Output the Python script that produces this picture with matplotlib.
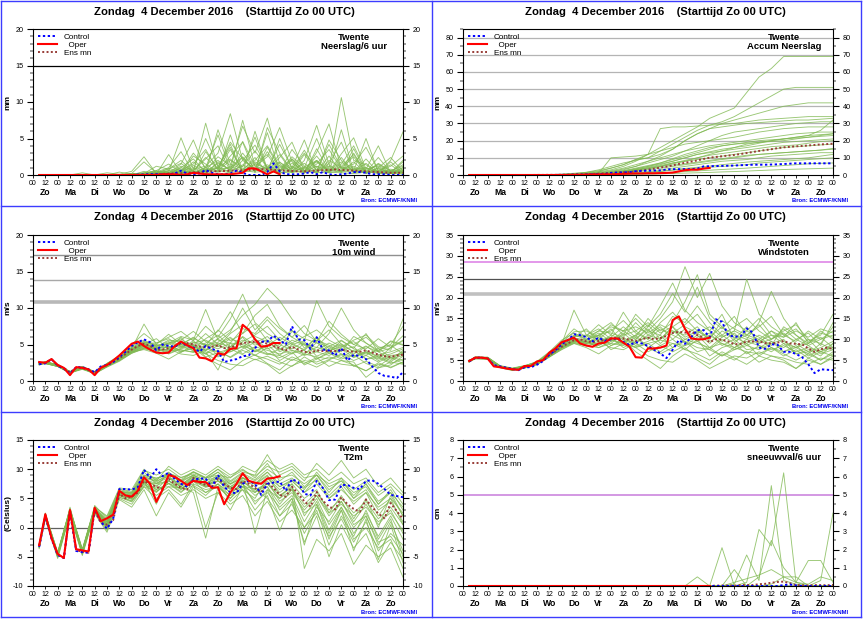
import numpy as np
import matplotlib.pyplot as plt
from matplotlib.lines import Line2D
from matplotlib.ticker import MultipleLocator
import matplotlib.transforms as mtransforms

plt.rcParams['font.family'] = ['Liberation Sans', 'DejaVu Sans']
plt.rcParams['axes.unicode_minus'] = False

# hours after Zo 4 Dec 2016 00 UTC
t_6h = np.arange(6, 361, 6)                   # control and ens mean
t_oper = np.arange(6, 241, 6)                 # oper run (10 days)
t_mem = np.r_[6, np.arange(12, 361, 12)]      # members, read every 12 h

hour_labels = ['00', '12'] * 15 + ['00']
day_names = ['Zo', 'Ma', 'Di', 'Wo', 'Do', 'Vr', 'Za',
             'Zo', 'Ma', 'Di', 'Wo', 'Do', 'Vr', 'Za', 'Zo']
title = 'Zondag  4 December 2016    (Starttijd Zo 00 UTC)'

# ---------------- Neerslag/6 uur (mm) ----------------
rain_oper = [0] * 20 + [0.1, 0.1, 0.1, 0.0, 0.1, 0.3, 0.2, 0.1, 0.1, 0.1,
                        0.1, 0.1, 0.2, 0.3, 0.9, 0.9, 0.5, 0.1, 0.5, 0.1]
rain_control = [0] * 16 + [0.05, 0.05, 0.1, 0.1,
                           0.1, 0.1, 0.2, 0.6, 0.2, 0.1, 0.2, 0.7, 0.3, 0.1,
                           0.1, 0.2, 0.6, 0.3, 0.0, 0.0, 0.0, 0.4, 1.6, 0.5,
                           0.1, 0.1, 0.1, 0.2, 0.4, 0.1, 0.4, 0.1, 0.0, 0.1,
                           0.2, 0.4, 0.4, 0.3, 0.1, 0.1, 0.1, 0.0, 0.0, 0.0]
rain_mean = [0] * 14 + [0.02, 0.03, 0.05, 0.07, 0.1, 0.12, 0.15, 0.2, 0.22, 0.25,
                        0.3, 0.35, 0.4, 0.45, 0.5, 0.5, 0.55, 0.6, 0.6, 0.65,
                        0.7, 0.75, 0.8, 0.75, 0.7, 0.65, 0.6, 0.55, 0.5, 0.5,
                        0.55, 0.6, 0.65, 0.7, 0.75, 0.7, 0.65, 0.6, 0.55, 0.5,
                        0.45, 0.4, 0.35, 0.3, 0.3, 0.3]
rain_members = [
    [0] * 8 + [0.2, 1.8, 0.3, 0.5, 5.1, 0.8, 1.2, 3.0, 8.4, 2.0, 4.1, 1.0, 0.3, 2.2, 0.5, 1.5, 3.5, 0.8, 1.2, 0.5, 0.2, 0.3, 0.5],
    [0] * 6 + [0.3, 0.1, 0.5, 2.5, 0.2, 0.3, 1.5, 4.8, 0.6, 2.5, 1.3, 6.7, 3.0, 7.8, 1.5, 0.4, 2.8, 0.6, 4.2, 1.0, 2.5, 0.2, 1.0, 0.2, 0.3],
    [0] * 4 + [0.3, 0, 0, 0.4, 0.1, 0.2, 1.2, 0.8, 2.0, 0.4, 7.1, 1.0, 4.5, 2.2, 0.6, 5.8, 0.5, 2.5, 1.0, 5.0, 0.8, 10.6, 2.0, 1.4, 0.3, 2.0, 5.9],
    [0] * 9 + [0.3, 0.6, 1.5, 0.4, 3.0, 1.0, 5.5, 0.7, 7.5, 1.2, 2.5, 6.5, 1.8, 0.4, 3.1, 7.0, 0.8, 1.5, 3.8, 0.6, 1.4, 0.2],
    [0] * 8 + [0.2, 0.1, 0.4, 0.2, 0.6, 1.5, 3.5, 0.6, 2.0, 1.1, 5.2, 0.6, 2.4, 4.5, 0.5, 1.2, 0.4, 2.9, 5.1, 0.8, 4.0, 0.3, 1.8],
    [0] * 9 + [0.5, 0.1, 2.8, 0.3, 0.6, 2.2, 4.0, 0.5, 1.2, 3.3, 1.0, 0.2, 1.0, 4.8, 0.3, 1.6, 4.5, 0.4, 2.2, 0.3, 0.6, 0.2],
    [0] * 8 + [0.1, 0.2, 0.3, 0.2, 1.0, 2.2, 0.4, 6.2, 1.5, 0.8, 2.0, 4.0, 1.2, 0.3, 2.0, 6.8, 1.4, 0.3, 3.0, 0.2, 1.0, 2.4, 0.5],
    [0] * 10 + [0.2, 0.4, 0.2, 0.8, 5.0, 1.2, 3.8, 0.4, 1.5, 2.8, 0.4, 3.5, 1.2, 0.2, 2.0, 1.0, 0.6, 5.0, 0.4, 0.2, 1.0],
    [0] * 9 + [0.1, 0.4, 1.0, 3.2, 0.3, 1.0, 0.5, 2.6, 4.5, 0.3, 6.5, 3.0, 0.6, 1.6, 0.4, 4.8, 2.0, 0.8, 0.4, 2.4, 0.4, 0.1],
    [0] * 10 + [0.1, 0.2, 0.5, 1.0, 0.2, 1.8, 0.6, 3.0, 0.8, 1.4, 0.6, 2.0, 0.2, 3.6, 0.6, 0.5, 1.8, 0.3, 0.6, 1.2, 2.6],
    [0] * 9 + [0.2, 0.2, 0.6, 0.3, 2.6, 1.5, 0.4, 5.5, 0.6, 2.4, 0.3, 5.0, 0.8, 3.0, 1.0, 0.3, 6.2, 0.5, 1.6, 0.2, 0.8, 0.4],
    [0] * 8 + [0.1, 0.2, 0.1, 0.3, 0.8, 0.2, 3.2, 0.8, 1.0, 2.5, 0.5, 3.2, 0.6, 1.2, 0.4, 2.0, 0.5, 1.5, 4.0, 0.6, 1.4, 0.3, 0.6],
    [0] * 10 + [0.1, 0.1, 0.2, 0.5, 0.3, 1.0, 4.2, 0.3, 6.0, 0.8, 1.8, 0.3, 1.0, 0.4, 2.6, 0.4, 0.8, 1.0, 0.2, 1.8, 0.3],
    [0] * 10 + [0.2, 0.3, 0.4, 0.3, 0.8, 0.4, 1.2, 0.5, 0.6, 1.2, 0.3, 0.6, 0.3, 0.8, 0.3, 0.6, 0.4, 0.3, 0.5, 0.4, 1.0],
    [0] * 9 + [0.1, 0.1, 0.2, 0.2, 0.4, 0.2, 0.6, 0.3, 0.6, 0.4, 0.5, 0.3, 0.4, 0.5, 0.3, 0.4, 0.3, 0.2, 0.4, 0.3, 0.2, 0.4],
    [0] * 8 + [0.1, 0.3, 0.2, 0.9, 0.4, 1.8, 0.5, 1.0, 2.2, 0.6, 1.5, 0.9, 2.8, 0.4, 1.1, 2.0, 0.6, 1.8, 0.5, 1.0, 0.4, 0.2, 0.8],
    [0] * 9 + [0.2, 0.5, 0.3, 1.2, 0.6, 2.4, 0.8, 3.5, 0.5, 1.8, 0.7, 4.2, 1.0, 0.6, 2.6, 0.5, 1.2, 2.8, 0.4, 1.5, 0.6, 1.2],
    [0] * 10 + [0.3, 0.8, 1.6, 0.4, 1.0, 2.0, 0.6, 4.6, 1.2, 0.5, 1.7, 0.8, 3.4, 0.6, 1.2, 0.5, 3.6, 0.4, 0.9, 0.3, 2.0],
    [0] * 9 + [0.1, 0.2, 0.6, 0.3, 1.3, 0.4, 1.6, 0.7, 2.4, 0.5, 3.8, 0.9, 2.2, 0.6, 1.8, 0.4, 2.4, 0.3, 0.8, 1.2, 0.2, 0.6],
    [0] * 10 + [0.1, 0.3, 0.5, 0.2, 0.6, 0.9, 0.4, 1.4, 0.6, 1.0, 0.5, 1.6, 0.4, 1.2, 0.8, 0.6, 1.0, 0.3, 0.7, 0.5, 1.4],
    [0] * 8 + [0.1, 0.2, 0.6, 0.2, 1.0, 0.3, 0.7, 1.1, 0.4, 2.0, 0.8, 0.5, 1.3, 0.6, 0.9, 1.9, 0.4, 1.1, 0.6, 0.4, 1.6, 0.5, 0.3],
]

# ---------------- Accum Neerslag (mm) ----------------
acc_oper = [0] * 16 + [0.0, 0.1, 0.1, 0.2, 0.3, 0.3, 0.4, 0.4, 0.5, 0.7, 0.8, 0.9,
                       0.9, 1.0, 1.0, 1.1, 1.2, 1.4, 2.1, 2.8, 3.1, 3.1, 3.7, 4.1]
acc_control = [0] * 14 + [0.05, 0.1,
                          0.1, 0.2, 0.2, 0.3, 0.4, 0.5, 0.6, 1.2, 1.4, 1.5, 1.6, 2.2,
                          2.4, 2.5, 2.6, 2.7, 3.2, 3.4, 3.4, 3.4, 3.4, 3.7, 5.0, 5.1,
                          5.2, 5.3, 5.4, 5.5, 5.7, 5.8, 6.0, 6.0, 6.0, 6.1,
                          6.2, 6.4, 6.6, 6.8, 6.8, 6.8, 6.8, 6.8, 6.8, 6.8]
acc_mean = [0, 0, 0, 0, 0, 0, 0, 0, 0, 0,
            0, 0.05, 0.05, 0.1, 0.1, 0.2, 0.2, 0.3, 0.4, 0.5,
            0.6, 0.8, 1.0, 1.2, 1.4, 1.6, 1.8, 2.1, 2.6, 3.1,
            3.7, 4.3, 4.9, 5.6, 6.4, 7.1, 7.8, 8.5, 9.3, 10.1,
            10.5, 10.9, 11.3, 11.7, 12.2, 12.8, 13.4, 14.0, 14.5, 15.0,
            15.6, 16.1, 16.4, 16.7, 16.9, 17.2, 17.5, 17.8, 18.0, 18.2]
acc_members = [
    [0] * 7 + [0.2, 0.5, 1.0, 1.5, 2.5, 4.0, 6.0, 9.0, 12, 16, 20, 24, 28, 33, 36, 39, 48, 57, 62, 69, 69, 69, 69, 69],
    [0] * 7 + [0.1, 0.3, 0.8, 1.6, 3.0, 5.0, 7.0, 8.5, 10, 14, 18, 22, 26, 29, 31, 34, 38, 42, 46, 50, 51, 51, 51, 51],
    [0] * 8 + [0.2, 0.5, 1.2, 2.0, 4.0, 6.0, 9.0, 10, 12, 15, 20, 24, 27, 30, 32, 34, 36, 38, 40, 41, 42, 42, 42],
    [0] * 8 + [0.3, 0.6, 1.0, 1.8, 3.0, 5.0, 8.0, 12, 27, 28, 28, 28.5, 29, 29.5, 30, 31, 32, 32.5, 33, 33.5, 34, 34, 34],
    [0] * 8 + [0.1, 0.4, 0.8, 1.2, 2.0, 3.0, 5.0, 8, 11, 15, 20, 24, 27, 28, 29, 30, 30.5, 31, 31.5, 32, 32, 32.5, 33],
    [0] * 8 + [0.1, 0.2, 0.5, 1.0, 2.0, 3.5, 5.0, 7, 9, 11, 14, 17, 20, 23, 25, 26, 27, 28, 29, 30, 30.5, 31, 31],
    [0] * 9 + [0.2, 0.5, 1.0, 10, 10.5, 11, 12, 14, 16, 18, 19, 20, 21, 22, 23.5, 25, 26, 27, 27.5, 28, 28, 28],
    [0] * 8 + [0.2, 0.4, 0.8, 1.5, 2.5, 4.0, 6.0, 8, 10, 12, 14, 15.5, 17, 18, 19, 20, 21, 22, 23, 24, 24.5, 25, 25],
    [0] * 9 + [0.1, 0.4, 0.8, 1.5, 2.5, 4.0, 5.5, 7, 9, 11, 13, 15, 17, 18, 19, 20, 20.5, 21, 21.5, 22, 22.5, 23],
    [0] * 9 + [0.2, 0.3, 0.6, 1.0, 2.0, 3.0, 4.5, 6, 8, 10, 12, 13, 14, 15, 16, 17, 18, 19, 19.5, 20, 20.5, 21],
    [0] * 9 + [0.1, 0.2, 0.5, 1.0, 1.6, 2.5, 3.5, 5, 7, 8, 9, 10, 11, 12, 13, 14, 15, 16, 16.5, 17, 17.5, 18],
    [0] * 10 + [0.2, 0.4, 0.8, 1.2, 2.0, 3, 4, 5, 6, 7, 8, 9, 10, 11, 12, 12.5, 13, 13.5, 14, 14.5, 15],
    [0] * 10 + [0.1, 0.3, 0.6, 1.0, 1.5, 2, 3, 4, 5, 6, 7, 8, 8.5, 9, 10, 11, 11.5, 12, 12.5, 13, 13],
    [0] * 10 + [0.1, 0.2, 0.4, 0.7, 1.0, 1.5, 2, 2.8, 3.5, 4, 4.5, 5, 5.5, 6, 7, 7.5, 8, 8.5, 9, 9.5, 10],
    [0] * 11 + [0.1, 0.2, 0.4, 0.6, 0.9, 1.2, 1.6, 2.0, 2.4, 2.8, 3.2, 3.6, 4.0, 4.5, 5.0, 5.5, 6.0, 6.5, 6.8, 7.0],
    [0] * 12 + [0.1, 0.2, 0.3, 0.5, 0.7, 0.9, 1.1, 1.3, 1.5, 1.8, 2.0, 2.3, 2.6, 2.9, 3.2, 3.4, 3.6, 3.8, 4.0],
    [0] * 8 + [0.1, 0.3, 0.6, 1.0, 1.6, 2.4, 3.6, 5, 7, 9.5, 12, 14, 16, 17, 18, 18.5, 19, 19.5, 20, 21, 22, 23, 24],
    [0] * 9 + [0.2, 0.4, 0.8, 1.4, 2.0, 3.0, 4, 5, 6.5, 8, 10, 12, 14, 16, 18, 19, 20, 21, 22, 23, 26, 32],
    [0] * 9 + [0.1, 0.3, 0.7, 1.3, 2.0, 3.0, 4.2, 5.5, 7.0, 8.5, 10, 11.5, 12.5, 13.5, 14.5, 15.5, 16.5, 17, 17.5, 18.5, 19.5, 20],
    [0] * 10 + [0.2, 0.5, 1.0, 1.8, 2.8, 3.8, 4.8, 5.8, 6.5, 7.5, 8.5, 9.5, 10.5, 11.5, 12, 12.5, 13, 13.5, 14, 14.5, 15.5],
    [0] * 10 + [0.3, 0.6, 1.2, 2.2, 3.5, 5.0, 6.5, 8.0, 10, 12, 13.5, 15, 16, 17, 18.5, 20, 21, 22, 23, 23.5, 24],
    [0] * 11 + [0.1, 0.3, 0.6, 1.0, 1.5, 2.2, 3.0, 3.8, 4.5, 5.2, 6.0, 6.8, 7.5, 8.0, 8.5, 9.0, 9.5, 10.0, 11.0, 12.0],
]

# ---------------- 10m wind (m/s) ----------------
wind_oper = [2.6, 2.5, 3.0, 2.2, 1.8, 0.8, 1.9, 1.8, 1.6, 0.8,
             1.8, 2.2, 2.8, 3.5, 4.3, 5.1, 5.4, 4.8, 4.3, 3.9,
             3.8, 3.9, 4.8, 5.4, 4.9, 4.5, 3.2, 3.1, 2.7, 3.8,
             3.6, 4.4, 4.5, 7.7, 7.0, 5.7, 4.7, 4.8, 5.2, 5.2]
wind_control = [2.3, 2.4, 3.0, 2.1, 1.7, 1.0, 1.9, 1.9, 1.6, 1.2,
                2.0, 2.2, 2.6, 3.3, 4.0, 4.8, 5.3, 5.7, 5.3, 4.2,
                5.0, 4.8, 4.7, 5.3, 4.8, 4.6, 4.0, 4.8, 4.4, 4.1,
                2.6, 2.8, 3.0, 3.4, 3.5, 4.5, 5.4, 5.4, 6.2, 5.6,
                5.0, 7.5, 5.7, 5.6, 4.4, 6.0, 4.3, 4.2, 3.5, 4.5,
                2.8, 3.6, 3.4, 3.0, 2.0, 1.1, 0.7, 0.6, 0.4, 1.2]
wind_mean = [2.4, 2.5, 3.0, 2.1, 1.8, 1.2, 1.8, 1.8, 1.5, 1.1,
             1.9, 2.2, 2.6, 3.1, 3.7, 4.3, 4.8, 5.1, 4.8, 4.3,
             4.3, 4.5, 4.7, 5.2, 5.2, 5.0, 4.7, 4.6, 4.7, 4.9,
             4.5, 4.6, 4.8, 5.2, 5.3, 5.4, 5.4, 5.1, 4.8, 4.5,
             4.2, 4.7, 4.3, 4.0, 3.9, 4.2, 4.1, 4.1, 4.1, 4.3,
             4.1, 4.0, 4.0, 4.2, 3.9, 3.6, 3.4, 3.3, 3.5, 3.6]
wind_members = [
    [2.3, 2.6, 2.2, 1.3, 1.9, 1.3, 2.4, 3.5, 5.0, 6.5, 5.2, 6.0, 6.8, 5.5, 7.5, 6.0, 8.5, 11.9, 8.0, 6.5, 5.5, 7.0, 4.5, 6.0, 4.0, 5.5, 4.5, 6.5, 4.0, 5.5, 5.0],
    [2.5, 2.4, 2.0, 1.1, 1.7, 1.0, 2.0, 2.8, 3.8, 4.5, 4.0, 3.8, 4.5, 5.5, 4.2, 5.8, 7.0, 9.0, 10.5, 12.7, 11.0, 8.5, 6.5, 5.5, 7.0, 5.0, 4.0, 3.5, 4.5, 3.2, 4.0],
    [2.4, 2.5, 2.1, 1.2, 1.9, 1.2, 2.3, 3.2, 4.4, 7.8, 5.0, 4.5, 6.0, 4.0, 5.0, 3.5, 4.5, 6.0, 4.0, 5.0, 3.5, 5.0, 5.5, 11.0, 7.5, 6.0, 5.0, 6.0, 4.5, 5.0, 7.5],
    [2.3, 2.6, 2.2, 1.1, 1.8, 1.0, 2.1, 2.9, 4.0, 4.6, 4.3, 5.2, 4.0, 4.6, 3.2, 2.3, 1.5, 2.8, 3.6, 2.4, 1.5, 3.0, 2.4, 3.2, 2.0, 2.8, 2.2, 1.4, 2.5, 1.8, 2.6],
    [2.5, 2.5, 2.0, 1.2, 1.7, 1.1, 2.2, 3.1, 4.2, 5.0, 5.8, 4.4, 5.0, 6.0, 4.8, 7.0, 5.5, 6.5, 9.0, 10.5, 7.5, 6.0, 5.0, 4.6, 6.5, 10.0, 7.0, 5.2, 4.0, 4.5, 5.5],
    [2.2, 2.4, 2.0, 1.3, 1.6, 1.2, 2.0, 3.0, 4.0, 4.3, 3.8, 3.0, 4.0, 4.5, 3.8, 4.2, 3.2, 4.2, 3.5, 4.6, 2.8, 3.8, 4.2, 3.0, 4.0, 3.2, 4.2, 3.0, 3.2, 2.4, 3.0],
    [2.4, 2.6, 2.2, 1.2, 2.0, 1.2, 2.4, 3.3, 4.6, 5.4, 4.7, 5.6, 5.4, 4.9, 6.5, 5.0, 6.0, 4.6, 5.8, 4.4, 5.0, 4.2, 3.8, 4.6, 4.2, 4.6, 5.4, 4.2, 3.3, 3.7, 4.4],
    [2.3, 2.4, 2.1, 1.1, 1.8, 1.1, 2.0, 2.9, 3.9, 4.8, 4.4, 4.7, 4.2, 4.0, 4.7, 5.8, 4.2, 5.4, 6.3, 7.5, 5.6, 4.4, 5.4, 4.0, 4.7, 3.7, 3.3, 4.0, 2.8, 3.5, 3.7],
    [2.4, 2.5, 2.1, 1.2, 1.7, 1.1, 2.2, 3.0, 4.1, 5.0, 4.2, 4.0, 4.7, 5.2, 5.6, 4.7, 6.5, 7.7, 6.1, 5.4, 4.2, 5.6, 4.9, 4.2, 5.2, 4.4, 3.7, 4.7, 4.0, 3.0, 3.5],
    [2.3, 2.6, 2.2, 1.2, 1.9, 1.2, 2.1, 3.1, 4.3, 5.2, 5.2, 5.8, 4.7, 4.2, 3.7, 2.8, 2.3, 2.1, 3.0, 2.3, 1.0, 2.1, 2.8, 2.6, 3.3, 2.8, 2.6, 0.5, 1.8, 2.6, 2.3],
    [2.5, 2.5, 2.0, 1.1, 1.8, 1.0, 2.2, 3.0, 4.1, 4.8, 4.3, 4.2, 5.2, 4.7, 4.2, 5.2, 4.7, 6.1, 4.9, 5.6, 4.7, 6.8, 5.8, 5.2, 4.7, 5.6, 4.4, 3.7, 4.2, 4.9, 3.7],
    [2.4, 2.6, 2.3, 1.3, 2.0, 1.3, 2.3, 3.3, 4.5, 5.1, 4.6, 5.2, 5.6, 6.8, 5.4, 4.7, 5.8, 5.2, 4.4, 3.7, 3.5, 2.8, 3.7, 3.3, 3.0, 3.7, 2.8, 3.5, 2.6, 3.3, 2.8],
    [2.3, 2.4, 2.0, 1.1, 1.6, 1.0, 1.9, 2.7, 3.8, 4.4, 4.1, 4.4, 3.7, 3.5, 4.2, 3.3, 4.0, 4.7, 3.5, 3.0, 2.3, 3.3, 2.6, 1.9, 2.8, 2.3, 2.1, 1.4, 2.3, 1.9, 2.6],
    [2.5, 2.6, 2.2, 1.2, 1.9, 1.2, 2.4, 3.4, 4.8, 5.6, 4.8, 5.2, 6.1, 5.6, 9.8, 5.6, 5.2, 7.2, 6.5, 8.4, 6.5, 5.2, 6.1, 7.0, 5.6, 4.7, 5.6, 6.3, 4.7, 4.2, 8.5],
    [2.2, 2.5, 2.1, 1.2, 1.7, 1.1, 2.0, 2.8, 3.9, 4.5, 4.5, 3.7, 4.4, 4.9, 4.0, 1.5, 5.2, 3.7, 4.7, 4.2, 3.7, 4.2, 3.5, 4.0, 3.5, 4.2, 4.7, 3.0, 3.5, 2.8, 4.2],
    [2.4, 2.5, 2.1, 1.2, 1.8, 1.1, 2.2, 3.1, 4.3, 5.0, 4.6, 4.6, 4.9, 4.5, 5.2, 6.3, 4.7, 5.6, 5.2, 6.1, 4.4, 5.2, 4.2, 5.6, 4.9, 4.0, 6.1, 5.2, 4.2, 5.4, 4.9],
    [2.4, 2.5, 2.1, 1.3, 1.8, 1.2, 2.3, 3.2, 4.4, 5.3, 4.9, 5.0, 5.8, 4.3, 5.8, 6.8, 9.5, 6.5, 7.8, 5.5, 4.0, 4.8, 3.6, 5.3, 3.8, 4.4, 3.2, 3.9, 3.0, 4.6, 6.2],
    [2.3, 2.4, 2.0, 1.1, 1.7, 1.0, 2.0, 2.9, 4.0, 4.7, 3.9, 4.8, 3.9, 5.0, 3.3, 3.9, 4.4, 3.6, 2.9, 3.4, 2.6, 2.0, 3.3, 2.3, 2.9, 3.6, 2.0, 2.7, 2.0, 3.2, 2.4],
    [2.5, 2.6, 2.2, 1.2, 1.9, 1.2, 2.3, 3.2, 4.6, 5.4, 5.0, 6.4, 5.0, 5.9, 4.9, 5.3, 6.7, 10.0, 7.0, 8.8, 7.2, 6.0, 7.6, 5.4, 8.2, 6.4, 5.0, 4.4, 5.8, 4.6, 5.6],
    [2.4, 2.5, 2.1, 1.2, 1.8, 1.1, 2.1, 3.0, 4.2, 4.9, 4.5, 4.1, 4.3, 3.9, 4.4, 4.0, 3.3, 4.4, 5.3, 3.8, 3.2, 4.0, 2.2, 3.0, 3.8, 3.0, 3.6, 2.4, 1.8, 2.2, 3.4],
    [2.3, 2.5, 2.1, 1.2, 1.9, 1.1, 2.2, 3.1, 4.3, 5.0, 4.8, 5.4, 4.6, 5.3, 5.0, 4.4, 5.2, 5.0, 4.0, 4.8, 6.0, 5.0, 4.3, 6.0, 4.4, 5.1, 4.0, 4.8, 3.6, 4.0, 4.6],
    [2.4, 2.6, 2.2, 1.2, 1.8, 1.2, 2.2, 3.1, 4.2, 5.1, 4.4, 4.3, 5.0, 4.8, 3.7, 5.0, 4.0, 4.8, 4.2, 3.6, 4.4, 3.7, 5.2, 3.4, 4.1, 4.9, 3.4, 4.0, 3.3, 2.6, 3.9],
]
bft_levels = [10.8, 13.9, 17.2]

# ---------------- Windstoten (m/s) ----------------
gust_oper = [4.8, 5.6, 5.6, 5.4, 3.5, 3.3, 3.0, 2.8, 2.7, 3.6,
             3.6, 4.7, 5.0, 6.8, 7.8, 9.3, 9.8, 10.4, 9.0, 8.5,
             8.2, 9.0, 9.2, 10.2, 10.2, 9.2, 8.2, 5.7, 5.6, 7.8,
             7.8, 8.0, 8.5, 14.6, 15.5, 12.5, 10.2, 10.0, 10.0, 10.4]
gust_control = [4.7, 5.6, 5.6, 5.4, 3.8, 3.5, 3.2, 2.9, 2.6, 3.3,
                3.3, 3.9, 4.8, 6.3, 7.4, 8.8, 9.8, 11.2, 11.0, 10.5,
                9.5, 10.4, 9.6, 10.0, 10.2, 9.4, 8.6, 9.3, 9.0, 8.4,
                7.5, 6.6, 5.5, 7.5, 9.8, 8.9, 10.5, 12.2, 12.2, 10.5,
                14.8, 14.2, 11.0, 10.6, 10.7, 12.6, 11.6, 8.0, 7.7, 8.8,
                8.7, 7.0, 7.0, 6.5, 5.7, 4.0, 1.9, 2.8, 2.7, 2.6]
gust_mean = [4.8, 5.5, 5.6, 5.4, 3.7, 3.4, 3.1, 2.8, 2.7, 3.4,
             3.5, 4.2, 5.0, 6.2, 7.2, 8.2, 9.0, 9.8, 10.0, 9.5,
             9.3, 9.6, 9.8, 10.2, 10.3, 10.2, 9.9, 9.6, 10.0, 10.4,
             10.0, 10.3, 10.8, 11.5, 11.8, 11.6, 11.9, 11.0, 10.3, 9.3,
             10.0, 9.9, 9.5, 8.8, 8.9, 9.5, 9.5, 9.5, 9.1, 9.0,
             9.2, 9.6, 9.0, 8.9, 8.8, 7.8, 7.0, 7.6, 8.0, 7.7]
gust_members = [
    [4.6, 5.8, 5.7, 3.6, 2.9, 3.6, 4.5, 6.8, 9.5, 12.5, 10.5, 12.0, 14.0, 11.0, 16.0, 13.0, 18.0, 23.5, 17.0, 14.0, 12.0, 16.0, 10.0, 13.0, 9.0, 12.0, 10.5, 14.0, 9.0, 12.0, 10.0],
    [5.0, 5.4, 5.2, 3.2, 2.6, 3.1, 4.0, 5.8, 7.5, 9.0, 8.5, 8.0, 9.0, 11.5, 9.0, 12.0, 15.0, 19.0, 27.4, 20.0, 25.8, 18.0, 14.0, 12.0, 15.0, 11.0, 9.0, 8.0, 10.0, 7.0, 9.0],
    [4.7, 5.6, 5.5, 3.5, 3.0, 3.5, 4.3, 6.5, 8.8, 17.0, 11.0, 10.0, 12.5, 9.0, 11.0, 8.0, 10.0, 13.0, 9.0, 11.0, 8.0, 10.5, 12.0, 24.4, 16.0, 13.0, 11.0, 12.5, 9.5, 11.0, 16.0],
    [4.9, 5.3, 5.6, 3.3, 2.7, 3.2, 4.1, 6.0, 8.0, 9.5, 9.0, 11.0, 8.5, 10.0, 7.0, 5.0, 3.0, 6.0, 8.0, 5.5, 4.0, 6.5, 5.0, 7.0, 4.5, 6.0, 5.0, 3.0, 5.5, 4.0, 6.0],
    [4.8, 5.7, 5.3, 3.4, 2.9, 3.3, 4.4, 6.4, 8.5, 10.5, 12.5, 9.5, 10.5, 13.0, 10.5, 15.0, 12.0, 14.0, 19.0, 25.5, 16.0, 13.0, 11.0, 10.0, 14.0, 21.5, 15.0, 11.0, 8.5, 10.0, 12.0],
    [4.5, 5.5, 5.6, 3.6, 2.6, 3.5, 4.2, 6.1, 8.0, 9.0, 8.0, 6.5, 8.5, 9.5, 8.0, 9.0, 7.0, 9.0, 7.5, 10.0, 6.0, 8.0, 9.0, 6.5, 8.5, 7.0, 9.0, 6.5, 7.0, 5.0, 6.5],
    [4.9, 5.6, 5.4, 3.5, 3.0, 3.6, 4.6, 6.6, 9.0, 11.0, 10.0, 12.0, 11.5, 10.5, 14.0, 11.0, 13.0, 10.0, 12.5, 9.5, 11.0, 9.0, 8.0, 10.0, 9.0, 10.0, 11.5, 9.0, 7.0, 8.0, 9.5],
    [4.7, 5.4, 5.5, 3.3, 2.8, 3.3, 4.0, 5.9, 7.8, 9.8, 9.5, 10.0, 9.0, 8.5, 10.0, 12.5, 9.0, 11.5, 13.5, 16.0, 12.0, 9.5, 11.5, 8.5, 10.0, 8.0, 7.0, 8.5, 6.0, 7.5, 8.0],
    [4.8, 5.5, 5.4, 3.4, 2.7, 3.4, 4.3, 6.3, 8.3, 10.0, 9.0, 8.5, 10.0, 11.0, 12.0, 10.0, 14.0, 16.5, 13.0, 11.5, 9.0, 12.0, 10.5, 9.0, 11.0, 9.5, 8.0, 10.0, 8.5, 6.5, 7.5],
    [4.6, 5.7, 5.6, 3.5, 2.9, 3.5, 4.1, 6.2, 8.6, 10.8, 11.0, 12.5, 10.0, 9.0, 8.0, 6.0, 5.0, 4.5, 6.5, 5.0, 3.0, 4.5, 6.0, 5.5, 7.0, 6.0, 5.5, 4.5, 4.0, 5.5, 5.0],
    [5.0, 5.5, 5.3, 3.3, 2.8, 3.2, 4.2, 6.0, 8.1, 9.6, 9.2, 9.0, 11.0, 10.0, 9.0, 11.0, 10.0, 13.0, 10.5, 12.0, 10.0, 14.5, 12.5, 11.0, 10.0, 12.0, 9.5, 8.0, 9.0, 10.5, 8.0],
    [4.8, 5.6, 5.7, 3.7, 3.1, 3.7, 4.5, 6.6, 8.9, 10.2, 9.8, 11.0, 12.0, 14.5, 11.5, 10.0, 12.5, 11.0, 9.5, 8.0, 7.5, 6.0, 8.0, 7.0, 6.5, 8.0, 6.0, 7.5, 5.5, 7.0, 6.0],
    [4.7, 5.3, 5.2, 3.2, 2.5, 3.1, 3.9, 5.7, 7.6, 9.2, 8.8, 9.5, 8.0, 7.5, 9.0, 7.0, 8.5, 10.0, 7.5, 6.5, 5.0, 7.0, 5.5, 4.0, 6.0, 5.0, 4.5, 3.0, 5.0, 4.0, 5.5],
    [4.9, 5.8, 5.6, 3.5, 3.0, 3.6, 4.7, 7.0, 9.8, 11.5, 10.0, 11.0, 13.0, 12.0, 15.0, 12.0, 11.0, 15.5, 14.0, 18.0, 14.0, 11.0, 13.0, 15.0, 12.0, 10.0, 12.0, 13.5, 10.0, 9.0, 13.0],
    [4.6, 5.4, 5.5, 3.4, 2.7, 3.3, 4.0, 5.8, 7.9, 9.4, 9.5, 8.0, 9.5, 10.5, 8.5, 9.5, 11.0, 8.0, 10.0, 9.0, 8.0, 9.0, 7.5, 8.5, 7.5, 9.0, 10.0, 6.5, 7.5, 6.0, 9.0],
    [4.8, 5.5, 5.5, 3.4, 2.8, 3.4, 4.2, 6.2, 8.2, 9.9, 9.6, 9.8, 10.4, 9.5, 11.0, 13.5, 10.0, 12.0, 11.0, 13.0, 9.5, 11.0, 9.0, 12.0, 10.5, 8.5, 13.0, 11.0, 9.0, 11.5, 10.5],
    [4.8, 5.6, 5.5, 3.5, 2.8, 3.5, 4.4, 6.5, 8.7, 10.6, 10.8, 13.5, 11.0, 16.5, 12.0, 14.0, 11.5, 13.0, 15.0, 12.0, 10.5, 13.0, 9.5, 11.0, 13.5, 10.0, 12.5, 10.0, 11.5, 8.5, 14.0],
    [4.7, 5.5, 5.4, 3.3, 2.7, 3.3, 4.1, 6.0, 8.0, 9.6, 9.0, 10.5, 7.5, 9.0, 10.5, 8.0, 6.5, 8.0, 9.5, 7.0, 8.0, 6.0, 7.5, 9.0, 6.0, 8.0, 6.5, 5.0, 6.5, 5.0, 7.0],
    [4.9, 5.6, 5.6, 3.6, 3.0, 3.6, 4.5, 6.7, 9.2, 11.8, 12.0, 10.5, 13.5, 12.0, 10.0, 13.0, 16.0, 21.0, 16.5, 22.5, 15.0, 12.5, 15.5, 11.0, 13.0, 15.5, 11.0, 9.5, 12.0, 10.0, 11.0],
    [4.6, 5.4, 5.3, 3.4, 2.7, 3.2, 4.0, 5.9, 7.9, 9.3, 8.4, 9.2, 10.5, 8.0, 9.5, 10.5, 8.5, 7.0, 8.5, 10.5, 11.5, 8.5, 10.0, 7.5, 8.0, 9.5, 7.0, 8.0, 6.5, 9.0, 7.5],
    [4.8, 5.5, 5.5, 3.4, 2.9, 3.4, 4.3, 6.3, 8.4, 10.2, 9.9, 11.5, 9.5, 12.0, 13.0, 11.5, 13.5, 12.0, 10.0, 11.5, 13.0, 10.5, 12.0, 10.5, 9.5, 11.0, 10.5, 12.0, 10.5, 12.5, 11.5],
    [4.7, 5.6, 5.4, 3.5, 2.8, 3.4, 4.2, 6.1, 8.1, 9.7, 9.4, 8.6, 9.8, 8.8, 8.2, 9.0, 9.8, 9.0, 8.5, 9.5, 7.5, 10.0, 8.0, 9.5, 8.5, 7.5, 8.5, 7.0, 8.0, 7.0, 8.0],
]
gust_levels = [20.8, 24.5, 28.5]

# ---------------- T2m (Celsius) ----------------
t2m_oper = [-3.0, 2.3, -1.8, -4.5, -5.2, 3.0, -3.7, -3.9, -4.1, 3.4,
            1.1, 1.6, 2.2, 6.3, 5.5, 5.3, 6.3, 8.6, 7.5, 4.4,
            6.5, 9.0, 8.7, 8.0, 7.3, 8.0, 7.8, 7.8, 6.8, 6.9,
            4.0, 6.0, 7.5, 9.3, 8.0, 7.7, 7.5, 8.4, 8.5, 8.8]
t2m_control = [-3.3, 2.0, -1.9, -4.7, -5.2, 2.7, -4.0, -4.2, -4.3, 3.2,
               1.0, -0.2, 1.5, 6.6, 6.6, 6.5, 6.9, 9.9, 8.5, 10.0,
               8.8, 9.4, 8.3, 7.5, 7.0, 8.2, 8.4, 8.4, 6.9, 9.0,
               7.0, 6.0, 5.9, 7.5, 8.0, 7.5, 5.6, 7.5, 7.7, 7.9,
               6.3, 8.3, 7.8, 5.8, 5.5, 8.0, 6.8, 4.7, 4.8, 7.3,
               7.3, 6.8, 6.6, 8.0, 8.1, 7.5, 6.6, 5.6, 5.4, 5.2]
t2m_mean = [-3.1, 2.0, -1.7, -4.6, -5.2, 2.8, -3.9, -4.1, -4.3, 3.0,
            0.8, 0.5, 1.3, 5.8, 5.0, 5.3, 6.0, 8.0, 7.4, 7.0,
            6.6, 8.3, 7.5, 6.8, 6.5, 8.5, 7.7, 7.3, 7.0, 8.3,
            7.5, 6.8, 6.6, 8.0, 7.5, 6.8, 6.0, 7.8, 6.8, 5.6,
            5.3, 7.0, 5.8, 4.5, 3.6, 6.1, 4.6, 3.6, 3.1, 5.2,
            4.0, 3.2, 2.7, 4.8, 3.5, 2.4, 1.6, 4.2, 2.8, 1.5]
t2m_members = [
    [-3.5, 2.5, -5.0, 3.5, -4.5, 3.8, 1.5, 6.5, 6.0, 9.5, 7.5, 9.0, 8.0, 9.5, 8.5, 10.0, 8.0, 9.5, 9.0, 12.5, 9.0, 10.0, 8.0, 11.0, 9.0, 11.5, 8.5, 10.0, 7.0, 8.5, 6.0],
    [-3.0, 1.8, -4.5, 2.5, -4.0, 2.8, 0.0, 5.5, 4.5, 7.5, 6.0, 8.0, 7.0, 8.5, 7.5, 8.0, 6.5, 8.5, 7.5, 9.0, 5.5, 7.0, 2.0, 5.0, 0.5, 3.5, -1.0, 2.0, -3.0, 1.0, -4.0],
    [-3.2, 2.1, -4.8, 2.9, -4.2, 3.2, 1.0, 6.0, 5.5, 8.5, 7.0, 9.5, 7.5, 8.0, 6.0, 7.0, 5.0, 7.5, 4.0, 6.5, 2.0, 4.0, -1.0, 3.0, -3.0, 2.0, -1.5, 3.0, -2.0, 1.5, -5.0],
    [-2.8, 2.3, -4.2, 3.2, -3.8, 3.5, 2.0, 6.8, 6.5, 10.0, 8.0, 10.5, 9.0, 10.0, 9.0, 10.5, 9.0, 10.0, 8.5, 11.0, 8.0, 9.5, 7.0, 9.0, 6.5, 8.0, 5.5, 7.5, 4.5, 6.0, 3.5],
    [-3.4, 1.6, -5.1, 2.4, -4.6, 2.6, -0.5, 5.0, 4.0, 7.0, 5.0, 6.5, 4.0, 7.5, 0.0, 6.0, 3.0, 7.0, 6.0, 8.0, 4.5, 6.0, 3.0, 5.5, 2.0, 4.5, 1.0, 4.0, 0.5, 3.0, -1.0],
    [-3.1, 2.0, -4.6, 2.8, -4.1, 3.0, 0.5, 5.8, 5.2, 8.0, 4.0, 8.5, 7.0, 6.0, -1.8, 7.0, 5.5, 8.0, -1.0, 6.5, 5.0, 7.5, -7.0, -2.0, -4.0, -1.0, -6.3, -3.0, -5.0, -3.5, -8.5],
    [-3.3, 2.2, -4.4, 3.0, -3.9, 3.3, 1.2, 6.2, 6.0, 9.0, 8.5, 9.0, 8.0, 9.0, 8.0, 9.5, 7.5, 9.0, 8.0, 9.5, 7.0, 8.0, 6.0, 8.5, 5.0, 7.0, 4.0, 6.0, 2.0, 5.0, 0.5],
    [-2.9, 1.9, -4.7, 2.6, -4.3, 2.9, 0.2, 5.5, 5.0, 7.8, 7.5, 8.0, 6.5, 8.5, 7.0, 8.5, 7.0, 8.0, 6.0, 7.5, 5.0, 6.5, 3.5, 5.5, 2.5, 4.0, 2.0, 3.5, 1.0, 2.5, -0.5],
    [-3.6, 1.5, -5.3, 2.2, -4.8, 2.4, -0.8, 4.8, 3.5, 6.5, 2.0, 6.0, 3.5, 7.0, 5.5, 7.5, 4.5, 6.5, 5.0, 8.5, 6.0, 7.5, 5.0, 6.5, 2.5, 5.5, 1.5, 5.0, 0.0, 5.5, 2.0],
    [-3.0, 2.4, -4.3, 3.3, -3.7, 3.6, 1.8, 6.6, 6.2, 9.8, 9.0, 10.0, 8.5, 9.5, 8.5, 9.0, 8.5, 10.5, 9.5, 11.5, 10.0, 11.0, 9.0, 10.0, 8.0, 9.5, 7.5, 8.5, 6.0, 7.5, 5.5],
    [-3.2, 2.0, -4.6, 2.7, -4.2, 3.1, 0.8, 5.9, 5.4, 8.2, 6.5, 7.5, 6.0, 8.0, 7.0, 8.0, 6.0, 7.5, 5.5, 7.0, 3.0, 5.0, -3.0, 4.0, -2.0, 3.0, -4.0, 1.5, -5.5, 0.5, -6.0],
    [-3.1, 1.7, -4.9, 2.5, -4.4, 2.7, 0.0, 5.2, 4.6, 7.2, 6.8, 7.0, 5.5, 6.5, 5.0, 6.0, 4.0, 5.5, 2.0, 4.5, 1.0, 3.0, 0.0, 2.5, -1.5, 1.5, -2.5, 1.0, -4.0, -1.0, -3.0],
    [-2.9, 2.2, -4.4, 3.1, -3.9, 3.4, 1.3, 6.3, 5.8, 8.8, 7.8, 9.2, 7.8, 9.0, 7.5, 9.0, 7.5, 8.5, 7.0, 8.5, 6.5, 8.0, 6.0, 7.5, 5.0, 6.5, 4.5, 6.0, 3.5, 5.0, 2.5],
    [-3.4, 1.8, -4.8, 2.6, -4.3, 2.8, 0.3, 5.6, 5.0, 7.6, 5.5, 7.0, 6.8, 7.5, 6.5, 7.0, 5.0, 7.0, 4.5, 6.0, 3.5, 5.5, 1.0, 4.5, -0.5, 3.5, 0.0, 2.5, -1.5, 2.0, -2.0],
    [-3.0, 2.1, -4.5, 2.9, -4.0, 3.1, 0.6, 6.0, 5.6, 8.4, 8.0, 8.8, 7.2, 9.0, 8.0, 8.8, 7.0, 8.5, 7.5, 9.5, 7.5, 8.5, 6.5, 9.5, 7.0, 8.0, 6.0, 7.0, 4.0, 6.5, 3.0],
    [-3.2, 2.0, -4.7, 2.8, -4.1, 3.0, 0.4, 5.7, 5.3, 8.0, 7.2, 8.0, 6.6, 8.3, 7.2, 8.0, 6.8, 7.8, 6.5, 7.5, 5.5, 6.8, 4.0, 6.0, 3.0, 5.0, 2.5, 4.5, 1.5, 3.5, 0.5],
    [-3.3, 1.9, -4.9, 2.6, -4.4, 2.9, 0.3, 5.6, 4.8, 7.8, 6.5, 8.6, 7.0, 8.8, 7.4, 8.6, 6.6, 8.2, 6.2, 7.0, 4.0, 6.5, 2.5, 4.0, -1.0, 3.0, -2.0, 0.0, -3.5, -2.0, -7.0],
    [-3.0, 2.2, -4.5, 3.0, -4.0, 3.2, 0.9, 6.2, 5.7, 8.6, 8.2, 9.4, 8.2, 9.6, 8.6, 10.0, 8.6, 9.8, 8.8, 10.5, 9.5, 10.5, 8.5, 9.0, 7.5, 8.5, 6.5, 8.0, 5.5, 7.0, 4.0],
    [-3.2, 1.9, -4.7, 2.7, -4.2, 2.9, 0.4, 5.5, 5.0, 7.8, 6.2, 7.6, 6.2, 7.2, 6.0, 7.5, 5.5, 6.5, 3.0, 5.5, -0.5, 4.5, -2.5, 2.0, -5.0, 0.5, -3.5, -1.0, -6.0, -2.5, -5.5],
    [-3.1, 2.1, -4.6, 2.9, -4.1, 3.1, 0.6, 5.9, 5.4, 8.2, 7.6, 8.6, 7.4, 8.7, 7.6, 8.6, 7.4, 8.6, 7.4, 8.8, 7.0, 8.2, 6.8, 8.2, 5.5, 7.5, 5.0, 7.5, 4.0, 6.0, 2.0],
    [-3.4, 1.7, -4.9, 2.5, -4.5, 2.6, -0.2, 5.2, 4.4, 7.0, 6.2, 7.6, 6.6, 7.9, 6.9, 7.4, 6.1, 7.1, 6.6, 5.0, 2.0, 5.0, 0.0, 3.5, 1.0, 4.5, 0.5, 2.0, -2.5, -1.5, -4.5],
    [-2.9, 2.3, -4.4, 3.1, -3.9, 3.3, 1.0, 6.1, 5.9, 8.9, 8.4, 9.3, 8.6, 9.2, 8.4, 9.5, 7.8, 9.3, 8.2, 10.0, 8.5, 9.0, 7.5, 9.0, 6.0, 8.5, 5.0, 6.5, 3.0, 4.5, 1.0],
]

# ---------------- sneeuwval/6 uur (cm) ----------------
snow_oper = [0] * 40
snow_control = [0] * 50 + [0, 0.05, 0.08, 0.03, 0, 0, 0, 0, 0, 0]
snow_mean = [0] * 40 + [0.02, 0.03, 0.02, 0.02, 0.05, 0.06, 0.05, 0.1, 0.12, 0.18,
                        0.22, 0.24, 0.15, 0.05, 0.04, 0.03, 0.05, 0.05, 0.04, 0.06]
snow_members = [
    [0] * 19 + [0.5, 0, 2.1, 0, 0, 0, 0, 0, 0, 0, 0, 0],
    [0] * 22 + [0.9, 0, 0, 0, 0, 0, 0, 0, 0],
    [0] * 22 + [0.1, 1.7, 0.3, 5.5, 0.3, 0.1, 0, 0, 0],
    [0] * 23 + [0.2, 3.1, 2.2, 6.2, 0.2, 0, 0, 0],
    [0] * 23 + [0, 0.5, 2.5, 1.0, 0.2, 1.4, 1.4, 0.2],
    [0] * 25 + [0.1, 0.5, 0.5, 0, 0.3, 4.0],
    [0] * 22 + [0.2, 0.4, 0.6, 0.9, 0.5, 0.2, 0.1, 0.5, 0.3],
]

panels = [
    dict(name='Neerslag/6 uur', unit='mm', ylim=(0, 20), major=5, minor=1,
         members=rain_members, control=rain_control, oper=rain_oper, mean=rain_mean,
         refs=[(15, '#000000', 0.9)]),
    dict(name='Accum Neerslag', unit='mm', ylim=(0, 85), major=10, minor=5,
         members=acc_members, control=acc_control, oper=acc_oper, mean=acc_mean,
         refs=[(v, '#b4b4b4', 0.9) for v in range(10, 81, 10)]),
    dict(name='10m wind', unit='m/s', ylim=(0, 20), major=5, minor=1,
         members=wind_members, control=wind_control, oper=wind_oper, mean=wind_mean,
         refs=list(zip(bft_levels, ['#b8b8b8', '#a8a8a8', '#909090'], [2.6, 1.0, 1.0]))),
    dict(name='Windstoten', unit='m/s', ylim=(0, 35), major=5, minor=1,
         members=gust_members, control=gust_control, oper=gust_oper, mean=gust_mean,
         refs=list(zip(gust_levels, ['#c0c0c0', '#505050', '#e090e8'], [2.6, 0.9, 1.3]))),
    dict(name='T2m', unit='(Celsius)', ylim=(-10, 15), major=5, minor=1,
         members=t2m_members, control=t2m_control, oper=t2m_oper, mean=t2m_mean,
         refs=[(0, '#606060', 0.9)]),
    dict(name='sneeuwval/6 uur', unit='cm', ylim=(0, 8), major=1, minor=0.5,
         members=snow_members, control=snow_control, oper=snow_oper, mean=snow_mean,
         refs=[(5, '#d090e0', 1.3)]),
]

W, H = 863, 619
fig = plt.figure(figsize=(W / 100, H / 100), dpi=100)

ax_left = [33, 463]
ax_top = [29, 235, 440]
aw, ah = 370, 146
title_y = [12, 217, 423]
bron_y = [201, 406, 612]

ctrl_style = dict(color='#0000ff', lw=1.4, ls=(0, (1.2, 1.3)))
oper_style = dict(color='#ff0000', lw=1.5, ls='-')
mean_style = dict(color='#983c36', lw=1.4, ls=(0, (1.0, 1.2)))

for i, p in enumerate(panels):
    r, c = divmod(i, 2)
    ax = fig.add_axes([ax_left[c] / W, 1 - (ax_top[r] + ah) / H, aw / W, ah / H])

    for val, col, lw in p['refs']:
        ax.axhline(val, color=col, lw=lw, zorder=1)

    for m in p['members']:
        ax.plot(t_mem, m, color='#80b952', lw=0.65, alpha=0.8, zorder=2)
    ax.plot(t_6h, p['mean'], zorder=4, **mean_style)
    ax.plot(t_6h, p['control'], zorder=5, **ctrl_style)
    ax.plot(t_oper, p['oper'], zorder=6, **oper_style)

    ax.set_xlim(0, 360)
    ax.set_ylim(*p['ylim'])
    ax.set_xticks(np.arange(0, 361, 12))
    ax.set_xticklabels(hour_labels)
    ax.yaxis.set_major_locator(MultipleLocator(p['major']))
    ax.yaxis.set_minor_locator(MultipleLocator(p['minor']))
    ax.tick_params(axis='x', length=2, width=0.6, pad=1.5, labelsize=5)
    ax.tick_params(axis='y', which='major', length=4, width=0.8, pad=3,
                   labelsize=5.2, right=True, labelright=True)
    ax.tick_params(axis='y', which='minor', length=2.5, width=1.4,
                   color='#a0a0a0', right=True)
    for s in ax.spines.values():
        s.set_linewidth(0.8)

    trans = mtransforms.blended_transform_factory(ax.transData, ax.transAxes)
    for k, d in enumerate(day_names):
        ax.text(12 + 24 * k, -0.122, d, transform=trans, ha='center', va='center',
                fontsize=6.2, fontweight='bold')

    ax.text(-0.067, 0.5, p['unit'], transform=ax.transAxes, rotation=90,
            ha='center', va='center', fontsize=6, fontweight='bold')
    ax.text(0.868, 0.975, 'Twente\n' + p['name'], transform=ax.transAxes,
            ha='center', va='top', fontsize=6.8, fontweight='bold', linespacing=1.05)

    handles = [Line2D([], [], **ctrl_style), Line2D([], [], **oper_style),
               Line2D([], [], **mean_style)]
    ax.legend(handles, ['Control', '  Oper', 'Ens mn'], loc='upper left',
              bbox_to_anchor=(0.0, 1.0), frameon=False, fontsize=5.9,
              handlelength=2.4, handletextpad=0.8, labelspacing=0.0,
              borderaxespad=0.35, borderpad=0.2)

    fig.text((c * 431 + 224) / W, 1 - title_y[r] / H, title, ha='center', va='center',
             fontsize=8.1, fontweight='bold')
    fig.text((c * 431 + 417) / W, 1 - bron_y[r] / H, 'Bron: ECMWF/KNMI', ha='right',
             va='center', fontsize=4.2, fontweight='bold', color='#0000ee')

# blue panel frames
for x in [1, 431.5, 861]:
    fig.add_artist(Line2D([x / W, x / W], [1 - 1 / H, 1 - 617 / H],
                          transform=fig.transFigure, color='#3c3cff', lw=1))
for y in [1, 205.5, 411.5, 617]:
    fig.add_artist(Line2D([1 / W, 861 / W], [1 - y / H, 1 - y / H],
                          transform=fig.transFigure, color='#3c3cff', lw=1))

fig.savefig('out.png', dpi=100)
